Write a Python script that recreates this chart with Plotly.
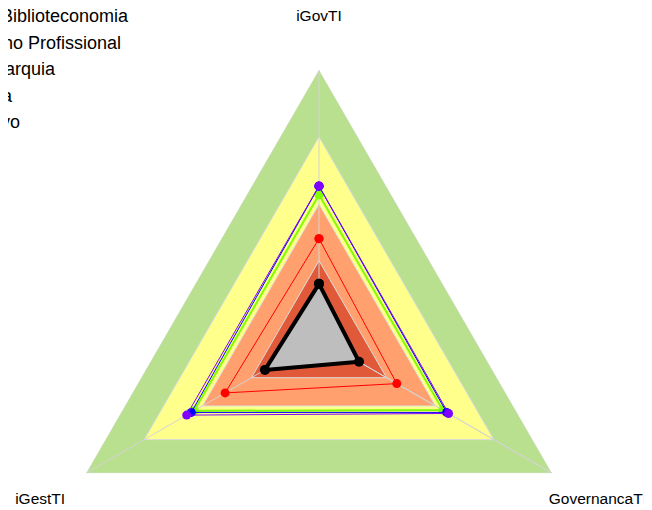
import plotly.graph_objects as go

# ---------- Data ----------
categories = ["iGovTI", "GovernancaTI", "iGestTI"]

# faixas de fundo (limite externo de cada faixa)
band_levels = [1.0, 0.75, 0.5, 0.29]
band_colors = ["#b9e08e", "#ffff8c", "#ffa06e", "#e05a3a"]

series_names = ["Média Biblioteconomia", "Conselho Profissional", "Em Autarquia",
                "Agência", "Corretivo"]
series_values = [
    [0.204, 0.172, 0.232],
    [0.372, 0.334, 0.403],
    [0.535, 0.531, 0.536],
    [0.567, 0.548, 0.548],
    [0.568, 0.556, 0.568],
]
series_colors = ["#000000", "#ff0000", "#7fff00", "#0000ff", "#8000ff"]
series_widths = [4, 1, 2, 1, 1]

# ---------- Layout geometry (pixels) ----------
W, H = 660, 670          # figure larger than the window; the page shows the top-left part
CX, CY = 311, 330.7      # centre of the radar
R_MAIN = 269             # radius of the outer band
R_SUB = 330              # radius of the label subplot
R_LABEL = 322            # radius where the axis labels sit
SECTOR = [209, 451]      # label subplot sector (keeps its box inside the figure)


def dom(x0, x1, y0, y1):
    return dict(x=[x0 / W, x1 / W], y=[1 - y1 / H, 1 - y0 / H])


main_domain = dom(CX - R_MAIN, CX + R_MAIN, CY - R_MAIN, CY + R_MAIN)
# bounding box of sector [209, 451]: x in [cos209, 1], y in [-1, 1]
label_domain = dom(CX - 0.87462 * R_SUB, CX + R_SUB, CY - R_SUB, CY + R_SUB)

closed = categories + categories[:1]

fig = go.Figure()

# ---------- Faixas ----------
for lvl, col in zip(band_levels, band_colors):
    fig.add_trace(go.Scatterpolar(
        r=[lvl] * len(closed), theta=closed, fill="toself", fillcolor=col,
        mode="lines", line=dict(color="#dcdcdc", width=1),
        showlegend=False, hoverinfo="skip"))

# ---------- Raios ----------
fig.add_trace(go.Scatterpolar(
    r=[1, 0, 1, 0, 1],
    theta=[categories[0], categories[0], categories[1], categories[1], categories[2]],
    mode="lines", line=dict(color="#d3d3d3", width=1),
    showlegend=False, hoverinfo="skip"))

# ---------- Séries ----------
for i, (name, vals, col, w) in enumerate(zip(series_names, series_values,
                                             series_colors, series_widths)):
    fig.add_trace(go.Scatterpolar(
        r=vals + vals[:1], theta=closed, name=name,
        mode="lines+markers",
        fill="toself" if i == 0 else None,
        fillcolor="#bebebe" if i == 0 else None,
        line=dict(color=col, width=w),
        marker=dict(color=col, size=10 if i == 0 else 9)))

# ---------- Rótulos dos eixos ----------
fig.add_trace(go.Scatterpolar(
    r=[R_LABEL / R_SUB] * len(categories), theta=categories, mode="text",
    subplot="polar2", text=categories,
    textfont=dict(size=15.5, color="#000000"), textposition="middle center",
    cliponaxis=False, showlegend=False, hoverinfo="skip"))

hidden_angular = dict(rotation=90, direction="clockwise", showline=False,
                      showgrid=False, showticklabels=False, ticks="")

fig.update_layout(
    width=W, height=H,
    margin=dict(l=0, r=0, t=0, b=0, autoexpand=False),
    paper_bgcolor="white",
    font=dict(family="Liberation Sans, Arial, sans-serif", color="#000000"),
    polar=dict(
        domain=main_domain,
        bgcolor="white",
        gridshape="linear",
        radialaxis=dict(visible=False, range=[0, 1]),
        angularaxis=hidden_angular,
    ),
    polar2=dict(
        domain=label_domain,
        sector=SECTOR,
        bgcolor="rgba(0,0,0,0)",
        radialaxis=dict(visible=False, range=[0, 1]),
        angularaxis=hidden_angular,
    ),
    legend=dict(x=-101 / W, y=1 + 10.8 / H, xanchor="left", yanchor="top",
                font=dict(size=18), bgcolor="rgba(0,0,0,0)"),
)

fig.write_html("out.html")
